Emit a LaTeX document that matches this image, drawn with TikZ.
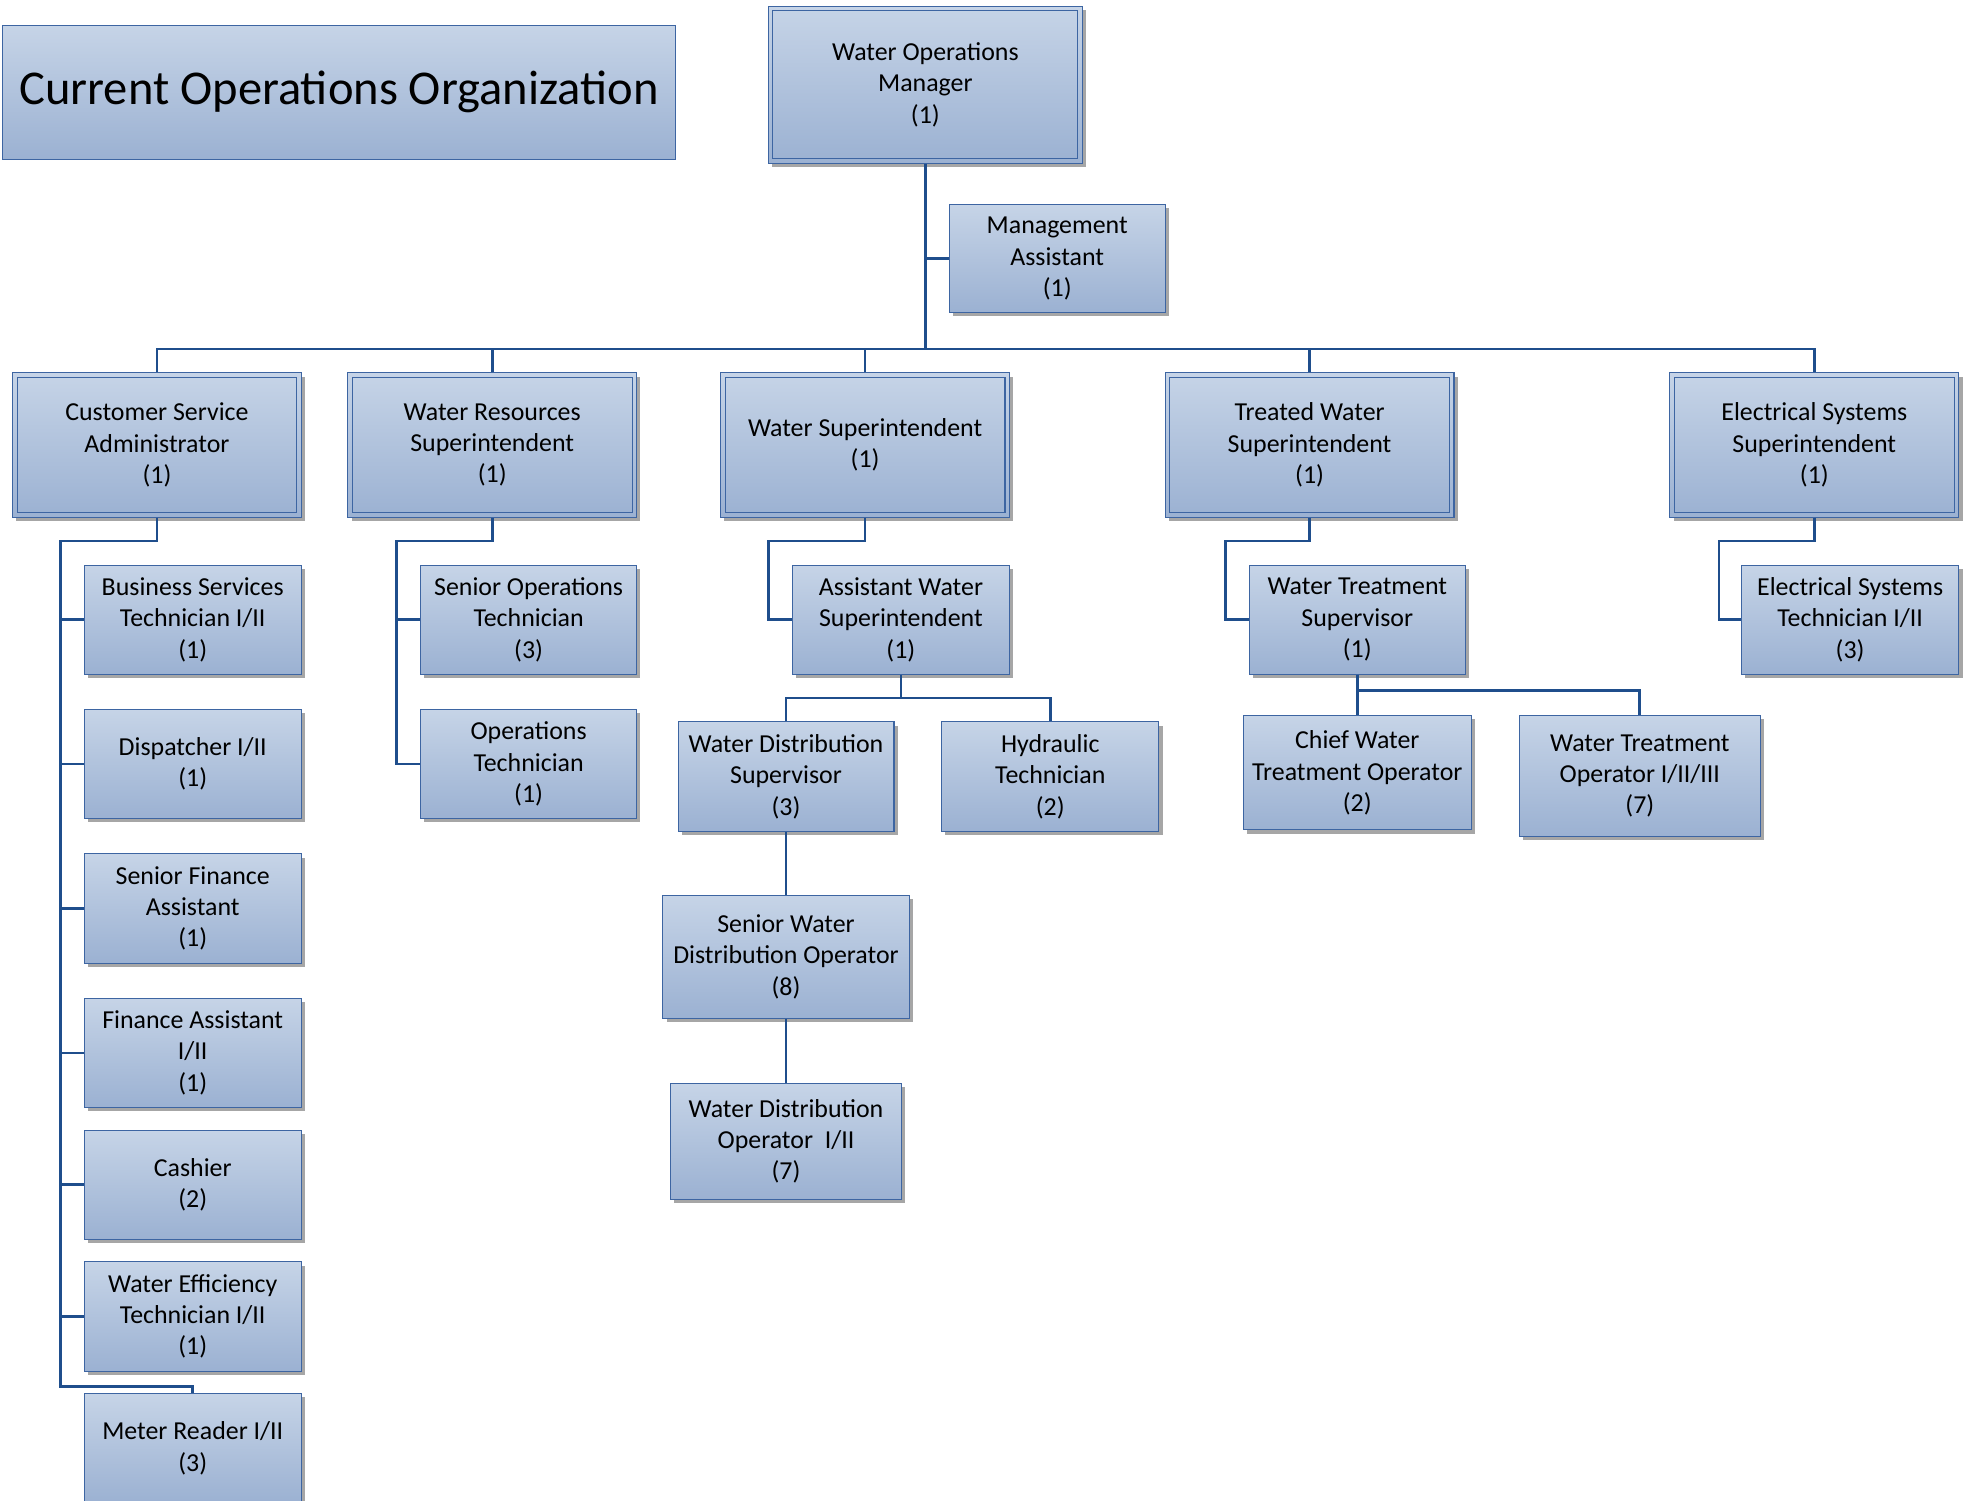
\documentclass[tikz,border=0pt]{standalone}
\usepackage{fontspec}
\setmainfont{Carlito}
\usetikzlibrary{shadows}

\definecolor{boxtop}{HTML}{C6D4E7}
\definecolor{boxbot}{HTML}{9BB1D2}
\definecolor{boxline}{HTML}{3D65A2}
\definecolor{linkcol}{HTML}{1F4E8C}

\begin{document}
\begin{tikzpicture}[x=0.03cm, y=-0.03cm,
    plate/.style={draw=boxline, line width=0.7pt, top color=boxtop, bottom color=boxbot,
      inner sep=0pt, align=center, font=\fontsize{17.6}{21.3}\selectfont},
    post/.style={plate,
      drop shadow={shadow xshift=0.09cm, shadow yshift=-0.09cm, fill=black!35, opacity=1}},
    wh/.style 2 args={minimum width=#1*0.03cm, minimum height=#2*0.03cm},
    frame/.style={draw=boxline, line width=0.7pt},
    link/.style={draw=linkcol, line width=1.8pt}]
  \useasboundingbox (0,0) rectangle (1565,1195);

  % title
  \node[plate, wh={536}{107}, font=\fontsize{33}{39}\selectfont] (title) at (270,73.5) {Current Operations Organization};

  % top
  \node[post, wh={250}{125}] (wom) at (737,67.5) {Water Operations\\Manager\\(1)};
  \node[post, wh={172}{86}] (ma) at (842,206) {Management\\Assistant\\(1)};

  % heads
  \node[post, wh={230}{115}] (csa) at (125,354.5) {Customer Service\\Administrator\\(1)};
  \node[post, wh={230}{115}] (wrs) at (392,354.5) {Water Resources\\Superintendent\\(1)};
  \node[post, wh={230}{115}] (ws) at (689,354.5) {Water Superintendent\\(1)};
  \node[post, wh={230}{115}] (tws) at (1043,354.5) {Treated Water\\Superintendent\\(1)};
  \node[post, wh={230}{115}] (ess) at (1445,354.5) {Electrical Systems\\Superintendent\\(1)};

  \foreach \n in {wom,csa,wrs,ws,tws,ess}
    \draw[frame] ([shift={(4,4)}]\n.north west) rectangle ([shift={(-4,-4)}]\n.south east);

  % customer service
  \node[post, wh={173}{87}] (bst) at (153.5,493.5) {Business Services\\Technician I/II\\(1)};
  \node[post, wh={173}{87}] (disp) at (153.5,608.5) {Dispatcher I/II\\(1)};
  \node[post, wh={173}{87}] (sfa) at (153.5,723.5) {Senior Finance\\Assistant\\(1)};
  \node[post, wh={173}{87}] (fa) at (153.5,838.5) {Finance Assistant\\I/II\\(1)};
  \node[post, wh={173}{87}] (cash) at (153.5,943.5) {Cashier\\(2)};
  \node[post, wh={173}{87}] (wet) at (153.5,1048.5) {Water Efficiency\\Technician I/II\\(1)};
  \node[post, wh={173}{87}] (mr) at (153.5,1153.5) {Meter Reader I/II\\(3)};

  % water resources
  \node[post, wh={172}{87}] (sot) at (421,493.5) {Senior Operations\\Technician\\(3)};
  \node[post, wh={172}{87}] (ot) at (421,608.5) {Operations\\Technician\\(1)};

  % water
  \node[post, wh={173}{87}] (asw) at (717.5,493.5) {Assistant Water\\Superintendent\\(1)};
  \node[post, wh={172}{87}] (wds) at (626,618.5) {Water Distribution\\Supervisor\\(3)};
  \node[post, wh={173}{87}] (ht) at (836.5,618.5) {Hydraulic\\Technician\\(2)};
  \node[post, wh={196}{98}] (swdo) at (626,762) {Senior Water\\Distribution Operator\\(8)};
  \node[post, wh={184}{92}] (wdo) at (626,909) {Water Distribution\\Operator\ \ I/II\\(7)};

  % treated water
  \node[post, wh={172}{87}] (wts) at (1081,493.5) {Water Treatment\\Supervisor\\(1)};
  \node[post, wh={182}{91}] (cwto) at (1081,615.5) {Chief Water\\Treatment Operator\\(2)};
  \node[post, wh={192}{96}] (wto) at (1306,618) {Water Treatment\\Operator I/II/III\\(7)};

  % electrical
  \node[post, wh={173}{87}] (est) at (1473.5,493.5) {Electrical Systems\\Technician I/II\\(3)};

  % connectors
  \coordinate (bus) at (737,278);
  \coordinate (csspine) at (48,431);
  \coordinate (mrtap) at (153.5,1104);
  \coordinate (wrspine) at (316,431);
  \coordinate (wsspine) at (612,431);
  \coordinate (aswbus) at (717.5,556);
  \coordinate (twspine) at (976,431);
  \coordinate (wtsbus) at (1081,550);
  \coordinate (esspine) at (1369,431);

  \draw[link] (wom.south) -- (bus);
  \draw[link] (ma.west) -- (ma.west -| bus);
  \draw[link] (csa.north) |- (bus) -| (ess.north);
  \foreach \n in {wrs,ws,tws}
    \draw[link] (\n.north) -- (\n.north |- bus);

  \draw[link] (csa.south) |- (csspine) |- (mrtap) -- (mr.north);
  \foreach \n in {bst,disp,sfa,fa,cash,wet}
    \draw[link] (\n.west) -- (\n.west -| csspine);

  \draw[link] (wrs.south) |- (wrspine) |- (ot.west);
  \draw[link] (sot.west) -- (sot.west -| wrspine);

  \draw[link] (ws.south) |- (wsspine) |- (asw.west);
  \draw[link] (asw.south) -- (aswbus);
  \draw[link] (wds.north) |- (aswbus) -| (ht.north);
  \draw[link] (wds.south) -- (swdo.north);
  \draw[link] (swdo.south) -- (wdo.north);

  \draw[link] (tws.south) |- (twspine) |- (wts.west);
  \draw[link] (wts.south) -- (cwto.north);
  \draw[link] (wtsbus) -| (wto.north);

  \draw[link] (ess.south) |- (esspine) |- (est.west);
\end{tikzpicture}
\end{document}
